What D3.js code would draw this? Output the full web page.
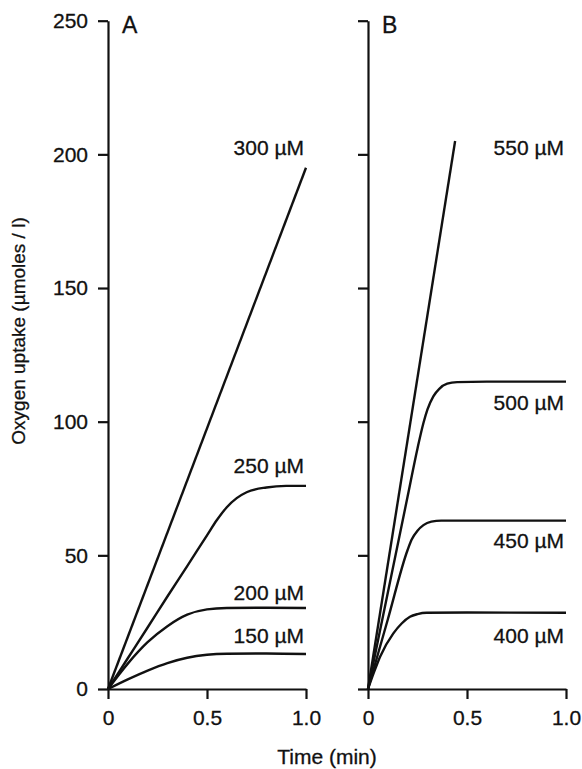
<!DOCTYPE html>
<html>
<head>
<meta charset="utf-8">
<script src="https://cdn.jsdelivr.net/npm/d3@7"></script>
<style>
  body { margin: 0; background: #fff; }
  text { font-family: "Liberation Sans", Arial, Helvetica, sans-serif; fill: #111; stroke: #111; stroke-width: 0.3px; }
</style>
</head>
<body>
<div id="chart"></div>
<script>
const WIDTH = 582,
    HEIGHT = 769;

// time in min, uptake in umoles / l
const panels = ["A", "B"];
const xTicks = [0, 0.5, 1.0];
const yTicks = [0, 50, 100, 150, 200, 250];

// panel A
const conc_A = ["300 \u00b5M", "250 \u00b5M", "200 \u00b5M", "150 \u00b5M"];
const t_300 = [0, 1.0];
const v_300 = [0, 195];
const t_250 = [0, 0.1, 0.2, 0.3, 0.4, 0.5, 0.55, 0.6, 0.65, 0.7, 0.8, 0.9, 1.0];
const v_250 = [0, 11.5, 23, 34.6, 46, 57.5, 63.2, 68, 71.4, 73.6, 75.4, 76, 76];
const t_200 = [0, 0.1, 0.2, 0.3, 0.4, 0.5, 0.6, 0.8, 1.0];
const v_200 = [0, 9.5, 17.5, 23.5, 27.8, 29.8, 30.3, 30.4, 30.3];
const t_150 = [0, 0.1, 0.2, 0.3, 0.4, 0.5, 0.6, 0.8, 1.0];
const v_150 = [0, 3.6, 6.9, 9.7, 11.7, 12.8, 13.2, 13.3, 13.1];
const label_A = [199.6, 80.7, 33.2, 17.2];

// panel B
const conc_B = ["550 \u00b5M", "500 \u00b5M", "450 \u00b5M", "400 \u00b5M"];
const t_550 = [0, 0.44];
const v_550 = [0, 205];
const t_500 = [0, 0.1, 0.2, 0.25, 0.28, 0.3, 0.33, 0.36, 0.4, 0.45, 0.6, 1.0];
const v_500 = [0, 36, 72, 90, 99.5, 104.5, 109.5, 112.3, 114.2, 114.8, 115, 115];
const t_450 = [0, 0.1, 0.2, 0.22, 0.25, 0.28, 0.32, 0.37, 0.6, 1.0];
const v_450 = [0, 26, 52, 55.8, 59.2, 61.3, 62.6, 63, 63, 63];
const t_400 = [0, 0.03, 0.061, 0.128, 0.17, 0.212, 0.25, 0.296, 0.5, 1.0];
const v_400 = [0, 6.2, 12.1, 20.8, 24.5, 27, 28, 28.5, 28.6, 28.5];
const label_B = [199.9, 104.3, 52.7, 17.2];

const series_A = [[t_300, v_300], [t_250, v_250], [t_200, v_200], [t_150, v_150]];
const series_B = [[t_550, v_550], [t_500, v_500], [t_450, v_450], [t_400, v_400]];

const svg = d3.select("#chart")
    .append("svg")
    .attr("width", WIDTH)
    .attr("height", HEIGHT);

const y = d3.scaleLinear().domain([0, 250]).range([689, 20.7]);
const xA = d3.scaleLinear().domain([0, 1]).range([108, 306]);
const xB = d3.scaleLinear().domain([0, 1]).range([368, 566]);

function drawPanel(name, x, series, conc, labelAt, showLabels) {
	const g = svg.append("g");

	const yAxis = d3.axisLeft(y)
		.tickValues(yTicks)
		.tickSize(10)
		.tickSizeOuter(0)
		.tickPadding(10)
		.tickFormat(showLabels ? d3.format("d") : "");
	const gy = g.append("g")
		.attr("transform", `translate(${x(0)},0)`)
		.call(yAxis);

	const xAxis = d3.axisBottom(x)
		.tickValues(xTicks)
		.tickSize(10)
		.tickSizeOuter(0)
		.tickPadding(11)
		.tickFormat((d) => (d === 0 ? "0" : d3.format(".1f")(d)));
	const gx = g.append("g")
		.attr("transform", `translate(0,${y(0)})`)
		.call(xAxis);

	[gx, gy].forEach((a) => {
		a.selectAll("path, line").attr("stroke", "#111").attr("stroke-width", 2.2);
		a.selectAll("text")
			.attr("font-size", "21px")
			.style("font-family", '"Liberation Sans", Arial, sans-serif')
			.attr("fill", "#111");
	});

	const line = d3.line()
		.x((d) => x(d[0]))
		.y((d) => y(d[1]))
		.curve(d3.curveMonotoneX);

	series.forEach(([ts, vs], i) => {
		const pts = ts.map((t, j) => [t, vs[j]]);
		g.append("path")
			.datum(pts)
			.attr("d", line)
			.attr("fill", "none")
			.attr("stroke", "#111")
			.attr("stroke-width", 2.4)
			.attr("stroke-linejoin", "round");

		g.append("text")
			.text(conc[i])
			.attr("x", x(0.99))
			.attr("y", y(labelAt[i]))
			.attr("font-size", "21px")
			.attr("text-anchor", "end");
	});

	g.append("text")
		.text(name)
		.attr("x", x(0) + 14)
		.attr("y", 33)
		.attr("font-size", "23px");
}

drawPanel(panels[0], xA, series_A, conc_A, label_A, true);
drawPanel(panels[1], xB, series_B, conc_B, label_B, false);

svg.append("text")
    .text("Oxygen uptake (\u00b5moles / l)")
    .attr("transform", "translate(25,331) rotate(-90)")
    .attr("font-size", "19px")
    .attr("text-anchor", "middle");

svg.append("text")
    .text("Time (min)")
    .attr("x", 327)
    .attr("y", 764)
    .attr("font-size", "21px")
    .attr("text-anchor", "middle");
</script>
</body>
</html>
